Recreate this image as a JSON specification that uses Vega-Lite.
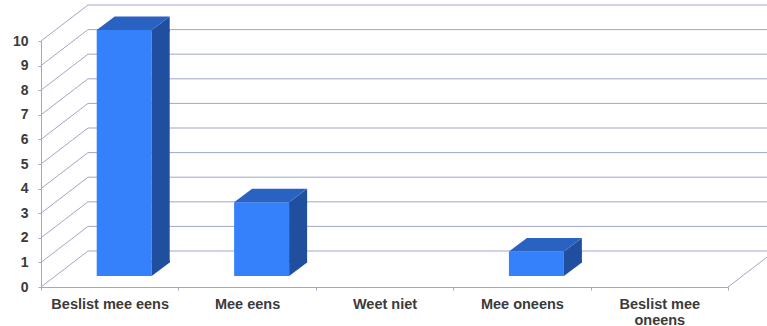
{
  "$schema": "https://vega.github.io/schema/vega-lite/v6.json",
  "width": 687,
  "height": 246,
  "autosize": "none",
  "padding": {"left": 41, "top": 41, "right": 39, "bottom": 39},
  "config": {
    "view": {"stroke": null},
    "font": "Liberation Sans",
    "axisY": {"labelOverlap": false, "tickCount": 11},
    "axisX": {"labelOverlap": false}
  },
  "datasets": {
    "antwoorden": [
      {"antwoord": "Beslist mee eens", "aantal": 10},
      {"antwoord": "Mee eens", "aantal": 3},
      {"antwoord": "Weet niet", "aantal": 0},
      {"antwoord": "Mee oneens", "aantal": 1},
      {"antwoord": "Beslist mee oneens", "aantal": 0}
    ],
    "niveaus": [
      {"niveau": 0}, {"niveau": 1}, {"niveau": 2}, {"niveau": 3},
      {"niveau": 4}, {"niveau": 5}, {"niveau": 6}, {"niveau": 7},
      {"niveau": 8}, {"niveau": 9}, {"niveau": 10}
    ]
  },
  "layer": [
    {
      "description": "back wall gridlines, pushed back in depth",
      "data": {"name": "niveaus"},
      "mark": {"type": "rule", "color": "#A1A7C7", "strokeWidth": 1, "xOffset": 47, "x2Offset": 47, "yOffset": -36},
      "encoding": {
        "x": {"datum": "Beslist mee eens", "type": "nominal", "bandPosition": 0},
        "x2": {"datum": "Beslist mee oneens", "bandPosition": 1},
        "y": {
          "field": "niveau",
          "type": "quantitative",
          "scale": {"domain": [0, 10], "nice": false, "zero": true},
          "axis": {
            "title": null,
            "grid": false,
            "values": [0, 1, 2, 3, 4, 5, 6, 7, 8, 9, 10],
            "labelOverlap": false,
            "domainColor": "#A1A7C7",
            "tickColor": "#A1A7C7",
            "tickSize": 3,
            "labelPadding": 10,
            "labelFont": "Liberation Sans",
            "labelFontSize": 14,
            "labelFontWeight": "bold",
            "labelColor": "#3B3B3B"
          }
        }
      }
    },
    {
      "description": "left wall: depth lines from each front tick to the back wall",
      "data": {"name": "niveaus"},
      "mark": {"type": "rule", "color": "#A1A7C7", "strokeWidth": 1, "x2Offset": 47, "y2Offset": -36},
      "encoding": {
        "x": {"datum": "Beslist mee eens", "type": "nominal", "bandPosition": 0},
        "x2": {"datum": "Beslist mee eens", "bandPosition": 0},
        "y": {"field": "niveau", "type": "quantitative"},
        "y2": {"field": "niveau"}
      }
    },
    {
      "description": "right edge of the floor",
      "data": {"name": "niveaus"},
      "transform": [{"filter": "datum.niveau == 0"}],
      "mark": {"type": "rule", "color": "#A1A7C7", "strokeWidth": 1, "x2Offset": 47, "y2Offset": -36},
      "encoding": {
        "x": {"datum": "Beslist mee oneens", "type": "nominal", "bandPosition": 1},
        "x2": {"datum": "Beslist mee oneens", "bandPosition": 1},
        "y": {"field": "niveau", "type": "quantitative"},
        "y2": {"field": "niveau"}
      }
    },
    {
      "description": "front face of each bar",
      "data": {"name": "antwoorden"},
      "transform": [{"filter": "datum.aantal > 0"}],
      "mark": {"type": "bar", "color": "#3481FB", "width": {"band": 0.4}, "xOffset": 14.5, "yOffset": -11, "y2Offset": -11},
      "encoding": {
        "x": {
          "field": "antwoord",
          "type": "nominal",
          "sort": null,
          "scale": {
            "domain": ["Beslist mee eens", "Mee eens", "Weet niet", "Mee oneens", "Beslist mee oneens"],
            "paddingInner": 0,
            "paddingOuter": 0
          },
          "axis": {
            "title": null,
            "labelAngle": 0,
            "labelAlign": "center",
            "labelBaseline": "top",
            "domainColor": "#A1A7C7",
            "tickColor": "#A1A7C7",
            "tickSize": 3,
            "tickBand": "extent",
            "labelPadding": 7,
            "labelFont": "Liberation Sans",
            "labelFontSize": 14.5,
            "labelFontWeight": "bold",
            "labelColor": "#3B3B3B",
            "labelLineHeight": 16,
            "labelOverlap": false,
            "labelExpr": "datum.value == 'Beslist mee oneens' ? ['Beslist mee', 'oneens'] : datum.label"
          }
        },
        "y": {"field": "aantal", "type": "quantitative"},
        "y2": {"datum": 0}
      }
    },
    {
      "description": "right side face of each bar (straight part)",
      "data": {"name": "antwoorden"},
      "transform": [{"filter": "datum.aantal > 0"}],
      "mark": {"type": "bar", "color": "#1F4F9E", "width": 18, "xOffset": 51, "yOffset": -11, "y2Offset": -24.5},
      "encoding": {
        "x": {"field": "antwoord", "type": "nominal", "sort": null},
        "y": {"field": "aantal", "type": "quantitative"},
        "y2": {"datum": 0}
      }
    },
    {
      "description": "slanted top end of the side face",
      "data": {"name": "antwoorden"},
      "transform": [{"filter": "datum.aantal > 0"}],
      "mark": {"type": "point", "shape": "M42,-11L60,-24.5L60,-9L42,-9Z", "size": 4, "filled": true, "opacity": 1, "strokeWidth": 0, "color": "#1F4F9E"},
      "encoding": {
        "x": {"field": "antwoord", "type": "nominal", "sort": null},
        "y": {"field": "aantal", "type": "quantitative"}
      }
    },
    {
      "description": "slanted bottom end of the side face",
      "data": {"name": "antwoorden"},
      "transform": [{"filter": "datum.aantal > 0"}],
      "mark": {"type": "point", "shape": "M42,-26.5L60,-26.5L60,-24.5L42,-11Z", "size": 4, "filled": true, "opacity": 1, "strokeWidth": 0, "color": "#1F4F9E"},
      "encoding": {
        "x": {"field": "antwoord", "type": "nominal", "sort": null},
        "y": {"datum": 0}
      }
    },
    {
      "description": "top face of each bar",
      "data": {"name": "antwoorden"},
      "transform": [{"filter": "datum.aantal > 0"}],
      "mark": {"type": "point", "shape": "M-13,-11L42,-11L60,-24.5L5,-24.5Z", "size": 4, "filled": true, "opacity": 1, "strokeWidth": 0, "color": "#2A62C2"},
      "encoding": {
        "x": {"field": "antwoord", "type": "nominal", "sort": null},
        "y": {"field": "aantal", "type": "quantitative"}
      }
    }
  ]
}
